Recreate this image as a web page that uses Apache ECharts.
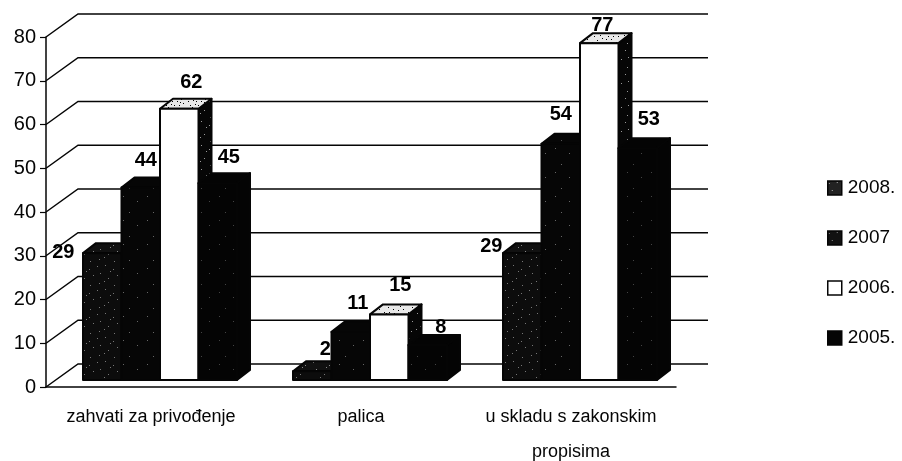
<!DOCTYPE html>
<html><head><meta charset="utf-8">
<style>html,body{margin:0;padding:0;background:#fff}#c{width:902px;height:461px}</style>
<script src="https://cdn.jsdelivr.net/npm/echarts@6/dist/echarts.min.js"></script>
</head><body><div id="c"></div>
<script>
const categories = ['zahvati za privođenje', 'palica', 'u skladu s zakonskim\npropisima'];
const seriesNames = ['2008.', '2007', '2006.', '2005.'];
const values2008 = [29, 2, 29];
const values2007 = [44, 11, 54];
const values2006 = [62, 15, 77];
const values2005 = [45, 8, 53];
const yTicks = [0, 10, 20, 30, 40, 50, 60, 70, 80];

// layout of the pseudo-3D look (not data)
const INK = '#050505', FONT = '"Liberation Sans", Arial, sans-serif';
const WALL = [32, 23], FLOOR = [9, 7], DEPTH = [13, 10], GROUP = 154 / 210;
const labelNudge = [
  [[-39, -1], [-31, -7]], [[5, -27], [0, -29]], [[12, -26], [3, -18]], [[11, -26], [11, -29]]
];
const labelNudgeMid = [[13, -22], [7, -28], [11, -29], [13, -18]];
function nudge(s, c) { return c === 1 ? labelNudgeMid[s] : labelNudge[s][c === 0 ? 0 : 1]; }

function tile(bg, speck, pts) {
  const k = document.createElement('canvas'); k.width = k.height = 24;
  const g = k.getContext('2d'); g.fillStyle = bg; g.fillRect(0, 0, 24, 24);
  g.fillStyle = speck; pts.forEach(p => g.fillRect(p[0], p[1], 1, 1));
  return { image: k, repeat: 'repeat' };
}
const s1 = [[1,2],[9,1],[17,5],[4,9],[21,11],[12,14],[3,19],[18,21],[8,17],[14,7]];
const s2 = [[3,4],[17,9],[9,20]];
const s3 = [[0,0],[2,1],[5,0],[7,2],[10,1],[13,3],[1,4],[4,5],[9,5],[12,6],[15,7],[3,8],[6,9],[11,9],[0,11],[8,12],[13,12],[2,14],[6,15],[11,15],[17,2],[20,5],[22,9],[18,12],[21,16],[16,18],[4,19],[9,21],[14,22],[19,21]];
const fills = [
  { front: tile('#0c0c0c', '#777', s1), top: tile('#111', '#888', s1), side: tile('#0a0a0a', '#555', s2) },
  { front: tile('#060606', '#666', s2), top: tile('#060606', '#555', s2), side: tile('#060606', '#555', s2) },
  { front: '#ffffff', top: tile('#e8e8e8', '#000', s3), side: tile('#060606', '#999', s1) },
  { front: tile('#040404', '#444', s2), top: '#040404', side: '#040404' }
];
const legendFills = [tile('#222', '#aaa', s1), tile('#111', '#888', s1), '#fff', '#050505'];

function wallItem(params, api) {
  const v = api.value(0);
  const a = api.coord([0, v]);
  const band = api.size([1, 0])[0];
  const x0 = a[0] - band / 2, y = a[1];
  const right = x0 + band * categories.length + WALL[0];
  return {
    type: 'polyline',
    shape: { points: [[x0, y], [x0 + WALL[0], y - WALL[1]], [right, y - WALL[1]]] },
    style: { stroke: INK, lineWidth: 1.5, fill: 'none' }
  };
}

function barRender(si) {
  return function (params, api) {
    const ci = params.dataIndex, v = api.value(1);
    const top0 = api.coord([ci, v]), base = api.coord([ci, 0]);
    const band = api.size([1, 0])[0], w = band * GROUP / seriesNames.length;
    const x0 = top0[0] + FLOOR[0] - band * GROUP / 2 + si * w, x1 = x0 + w;
    const t = top0[1] - FLOOR[1], b = base[1] - FLOOR[1];
    const dx = DEPTH[0], dy = DEPTH[1], f = fills[si];
    const stroke = { stroke: INK, lineWidth: 2, lineJoin: 'round' };
    const n = nudge(si, ci);
    return {
      type: 'group',
      children: [
        { type: 'polygon', shape: { points: [[x1, t], [x1 + dx, t - dy], [x1 + dx, b - dy], [x1, b]] }, style: Object.assign({ fill: f.side }, stroke) },
        { type: 'polygon', shape: { points: [[x0, t], [x0 + dx, t - dy], [x1 + dx, t - dy], [x1, t]] }, style: Object.assign({ fill: f.top }, stroke) },
        { type: 'rect', shape: { x: x0, y: t, width: w, height: b - t }, style: Object.assign({ fill: f.front }, stroke) },
        { type: 'text', z2: 100, style: {
            text: String(v), x: (x0 + x1) / 2 + n[0], y: t + n[1],
            align: 'center', verticalAlign: 'middle',
            font: 'bold 20px ' + FONT, fill: '#000'
        } }
      ]
    };
  };
}

const allValues = [values2008, values2007, values2006, values2005];
const chart = echarts.init(document.getElementById('c'), null, { renderer: 'canvas' });
chart.setOption({
  animation: false,
  backgroundColor: '#fff',
  grid: { left: 46, right: 226, top: 37, bottom: 74, containLabel: false, outerBoundsMode: 'none' },
  xAxis: {
    type: 'category', data: categories,
    axisLine: { lineStyle: { color: INK, width: 1.5 } },
    axisTick: { length: 6, lineStyle: { color: INK, width: 1.2 }, alignWithLabel: false },
    axisLabel: { color: INK, fontFamily: FONT, fontSize: 18, margin: 13, lineHeight: 35, interval: 0 }
  },
  yAxis: {
    type: 'value', min: 0, max: 80, interval: 10,
    axisLine: { show: true, lineStyle: { color: INK, width: 1.5 } },
    axisTick: { show: true, length: 6, lineStyle: { color: INK, width: 1.2 } },
    axisLabel: { color: INK, fontFamily: FONT, fontSize: 20, margin: 10 },
    splitLine: { show: false }
  },
  legend: {
    orient: 'vertical', left: 827, top: 178.5, padding: 0, itemWidth: 14, itemHeight: 14, itemGap: 31,
    selectedMode: false, icon: 'rect',
    textStyle: { color: INK, fontFamily: FONT, fontSize: 19, padding: [0, 0, 0, 1] },
    data: seriesNames.map((n, i) => ({
      name: n, icon: 'rect',
      itemStyle: { color: legendFills[i], borderColor: INK, borderWidth: 1.5 }
    }))
  },
  series: [
    { type: 'custom', name: 'wall', silent: true, z: 1, renderItem: wallItem,
      data: yTicks.map(v => [v]), encode: { y: 0 }, coordinateSystem: 'cartesian2d' }
  ].concat(seriesNames.map((n, si) => ({
    type: 'custom', name: n, silent: true, z: 2, renderItem: barRender(si),
    itemStyle: { color: legendFills[si] },
    data: allValues[si].map((v, ci) => [ci, v]), encode: { x: 0, y: 1 }
  })))
});
</script></body></html>
